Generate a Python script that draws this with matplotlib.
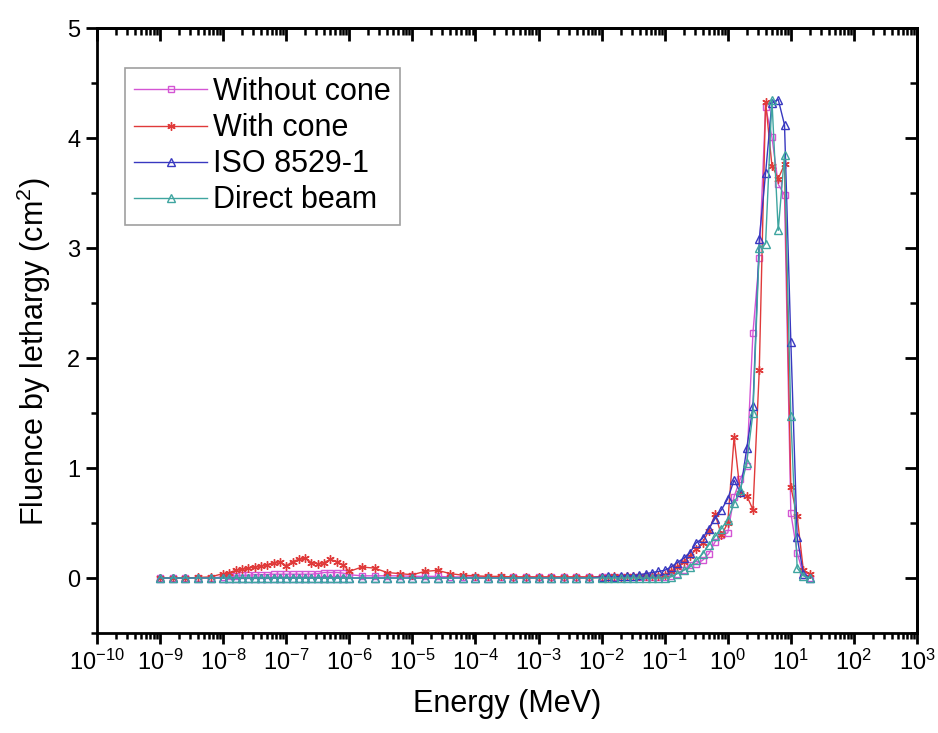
import matplotlib
matplotlib.use("Agg")
import matplotlib.pyplot as plt
import numpy as np
from matplotlib.ticker import LogLocator, MultipleLocator, FixedLocator

plt.rcParams['font.family'] = ['Liberation Sans', 'DejaVu Sans']
plt.rcParams['mathtext.fontset'] = 'custom'
plt.rcParams['mathtext.rm'] = 'Liberation Sans'
plt.rcParams['mathtext.it'] = 'Liberation Sans:italic'

# Energy grid (MeV)
energy = [
    1.0e-9, 1.58e-9, 2.51e-9, 3.98e-9, 6.31e-9,
    1.0e-8, 1.26e-8, 1.58e-8, 2.0e-8, 2.51e-8, 3.16e-8, 3.98e-8, 5.01e-8, 6.31e-8, 7.94e-8,
    1.0e-7, 1.26e-7, 1.58e-7, 2.0e-7, 2.51e-7, 3.16e-7, 3.98e-7, 5.01e-7, 6.31e-7, 7.94e-7,
    1.0e-6, 1.58e-6, 2.51e-6, 3.98e-6, 6.31e-6, 1.0e-5, 1.58e-5, 2.51e-5, 3.98e-5, 6.31e-5,
    1.0e-4, 1.58e-4, 2.51e-4, 3.98e-4, 6.31e-4, 1.0e-3, 1.58e-3, 2.51e-3, 3.98e-3, 6.31e-3,
    1.0e-2, 1.26e-2, 1.58e-2, 2.0e-2, 2.51e-2, 3.16e-2, 3.98e-2, 5.01e-2, 6.31e-2, 7.94e-2,
    0.1, 0.126, 0.158, 0.2, 0.251, 0.316, 0.398, 0.501, 0.631, 0.794,
    1.0, 1.26, 1.58, 2.0, 2.51, 3.16, 3.98, 5.01, 6.31, 7.94,
    10.0, 12.6, 15.8, 20.0,
]

without_cone = [
    0.0, 0.0, 0.0, 0.0, 0.0,
    0.01, 0.015, 0.02, 0.025, 0.025, 0.03, 0.03, 0.03, 0.035, 0.035,
    0.035, 0.035, 0.035, 0.035, 0.035, 0.04, 0.05, 0.05, 0.05, 0.045,
    0.03, 0.02, 0.02, 0.02, 0.02, 0.015, 0.015, 0.015, 0.01, 0.01,
    0.01, 0.01, 0.01, 0.01, 0.01, 0.01, 0.01, 0.01, 0.01, 0.01,
    0.01, 0.01, 0.01, 0.01, 0.01, 0.01, 0.01, 0.01, 0.01, 0.01,
    0.01, 0.02, 0.04, 0.07, 0.12, 0.13, 0.16, 0.22, 0.33, 0.39,
    0.41, 0.74, 0.90, 1.02, 2.23, 2.91, 4.28, 4.01, 3.58, 3.48,
    0.59, 0.23, 0.03, 0.0,
]

with_cone = [
    0.0, 0.0, 0.0, 0.005, 0.01,
    0.04, 0.05, 0.07, 0.08, 0.09, 0.10, 0.11, 0.12, 0.14, 0.15,
    0.11, 0.15, 0.17, 0.18, 0.14, 0.13, 0.14, 0.17, 0.15, 0.12,
    0.06, 0.10, 0.09, 0.05, 0.04, 0.03, 0.06, 0.07, 0.04, 0.025,
    0.02, 0.015, 0.015, 0.01, 0.01, 0.01, 0.01, 0.01, 0.01, 0.01,
    0.01, 0.01, 0.015, 0.01, 0.015, 0.02, 0.02, 0.02, 0.02, 0.02,
    0.03, 0.06, 0.10, 0.15, 0.20, 0.26, 0.32, 0.43, 0.58, 0.39,
    0.50, 1.28, 0.77, 0.75, 0.62, 1.89, 4.33, 3.75, 3.63, 3.76,
    0.83, 0.56, 0.07, 0.04,
]

iso_8529 = [
    0.0, 0.0, 0.0, 0.0, 0.0,
    0.0, 0.0, 0.0, 0.0, 0.0, 0.0, 0.0, 0.0, 0.0, 0.0,
    0.0, 0.0, 0.0, 0.0, 0.0, 0.0, 0.0, 0.0, 0.0, 0.0,
    0.0, 0.0, 0.0, 0.0, 0.0, 0.0, 0.0, 0.0, 0.0, 0.0,
    0.0, 0.0, 0.0, 0.0, 0.0, 0.0, 0.0, 0.0, 0.0, 0.0,
    0.01, 0.015, 0.01, 0.015, 0.02, 0.02, 0.03, 0.04, 0.05, 0.06,
    0.07, 0.10, 0.14, 0.18, 0.23, 0.32, 0.36, 0.45, 0.54, 0.62,
    0.72, 0.89, 0.78, 1.18, 1.56, 3.08, 3.68, 4.32, 4.35, 4.12,
    2.15, 0.37, 0.04, 0.0,
]

direct_beam = [
    0.0, 0.0, 0.0, 0.0, 0.0,
    0.0, 0.0, 0.0, 0.0, 0.0, 0.0, 0.0, 0.0, 0.0, 0.0,
    0.0, 0.0, 0.0, 0.0, 0.0, 0.0, 0.0, 0.0, 0.0, 0.0,
    0.0, 0.0, 0.0, 0.0, 0.0, 0.0, 0.0, 0.0, 0.0, 0.0,
    0.0, 0.0, 0.0, 0.0, 0.0, 0.0, 0.0, 0.0, 0.0, 0.0,
    0.0, 0.0, 0.0, 0.0, 0.0, 0.0, 0.0, 0.0, 0.0, 0.0,
    0.0, 0.01, 0.04, 0.07, 0.10, 0.16, 0.22, 0.30, 0.38, 0.45,
    0.53, 0.68, 0.80, 1.05, 1.50, 3.00, 3.04, 4.35, 3.16, 3.85,
    1.47, 0.09, 0.02, 0.0,
]

labels = ["Without cone", "With cone", "ISO 8529-1", "Direct beam"]

fig = plt.figure(figsize=(9.38, 7.33), dpi=100)
ax = fig.add_axes([0.1034, 0.1364, 0.8742, 0.8254])

ax.plot(energy, without_cone, color='#D455D4', lw=1.0, marker='s', ms=4.5,
        mfc='none', mew=1.0, label=labels[0])
ax.plot(energy, with_cone, color='#E03A3A', lw=1.0, marker=(6, 2, 0), ms=6,
        mew=1.0, label=labels[1])
ax.plot(energy, iso_8529, color='#3838C0', lw=1.0, marker='^', ms=6,
        mfc='none', mew=1.0, label=labels[2])
ax.plot(energy, direct_beam, color='#3FA5A0', lw=1.0, marker='^', ms=6,
        mfc='none', mew=1.0, label=labels[3])

ax.set_xscale('log')
ax.set_xlim(1e-10, 1e3)
ax.set_ylim(-0.5, 5)

ax.xaxis.set_major_locator(LogLocator(base=10, numticks=20))
ax.xaxis.set_minor_locator(LogLocator(base=10, subs=np.arange(2, 10), numticks=200))
ax.yaxis.set_major_locator(FixedLocator([0, 1, 2, 3, 4, 5]))
ax.yaxis.set_minor_locator(MultipleLocator(0.5))

for s in ax.spines.values():
    s.set_linewidth(2.0)

ax.tick_params(axis='both', which='major', labelsize=17, width=2.0, length=8, pad=4)
ax.tick_params(axis='both', which='minor', width=1.8, length=4.5)
ax.tick_params(axis='x', which='both', direction='out', bottom=True, top=False)
ax.tick_params(axis='y', which='both', direction='out', left=True, right=False)

# Mirrored inward ticks on top and right
axt = ax.secondary_xaxis('top')
axt.xaxis.set_major_locator(LogLocator(base=10, numticks=20))
axt.xaxis.set_minor_locator(LogLocator(base=10, subs=np.arange(2, 10), numticks=200))
axt.tick_params(which='major', direction='in', width=2.0, length=9, labeltop=False)
axt.tick_params(which='minor', direction='in', width=1.8, length=5)
axt.spines['top'].set_linewidth(2.0)
axr = ax.secondary_yaxis('right')
axr.yaxis.set_major_locator(FixedLocator([0, 1, 2, 3, 4, 5]))
axr.yaxis.set_minor_locator(MultipleLocator(0.5))
axr.tick_params(which='major', direction='in', width=2.0, length=9, labelright=False)
axr.tick_params(which='minor', direction='in', width=1.8, length=5)
axr.spines['right'].set_linewidth(2.0)

ax.set_xlabel('Energy (MeV)', fontsize=22, labelpad=10)
ax.set_ylabel('Fluence by lethargy (cm$^2$)', fontsize=22)
ax.yaxis.set_label_coords(-0.054, 0.465)

leg = ax.legend(loc='upper left', bbox_to_anchor=(0.034, 0.934), borderaxespad=0,
                fontsize=22, frameon=True, fancybox=False, numpoints=1,
                handlelength=2.4, handletextpad=0.2, labelspacing=0.2,
                borderpad=0.3)
leg.get_frame().set_edgecolor('#888888')
leg.get_frame().set_linewidth(1.2)

fig.savefig('out.png', dpi=100)
